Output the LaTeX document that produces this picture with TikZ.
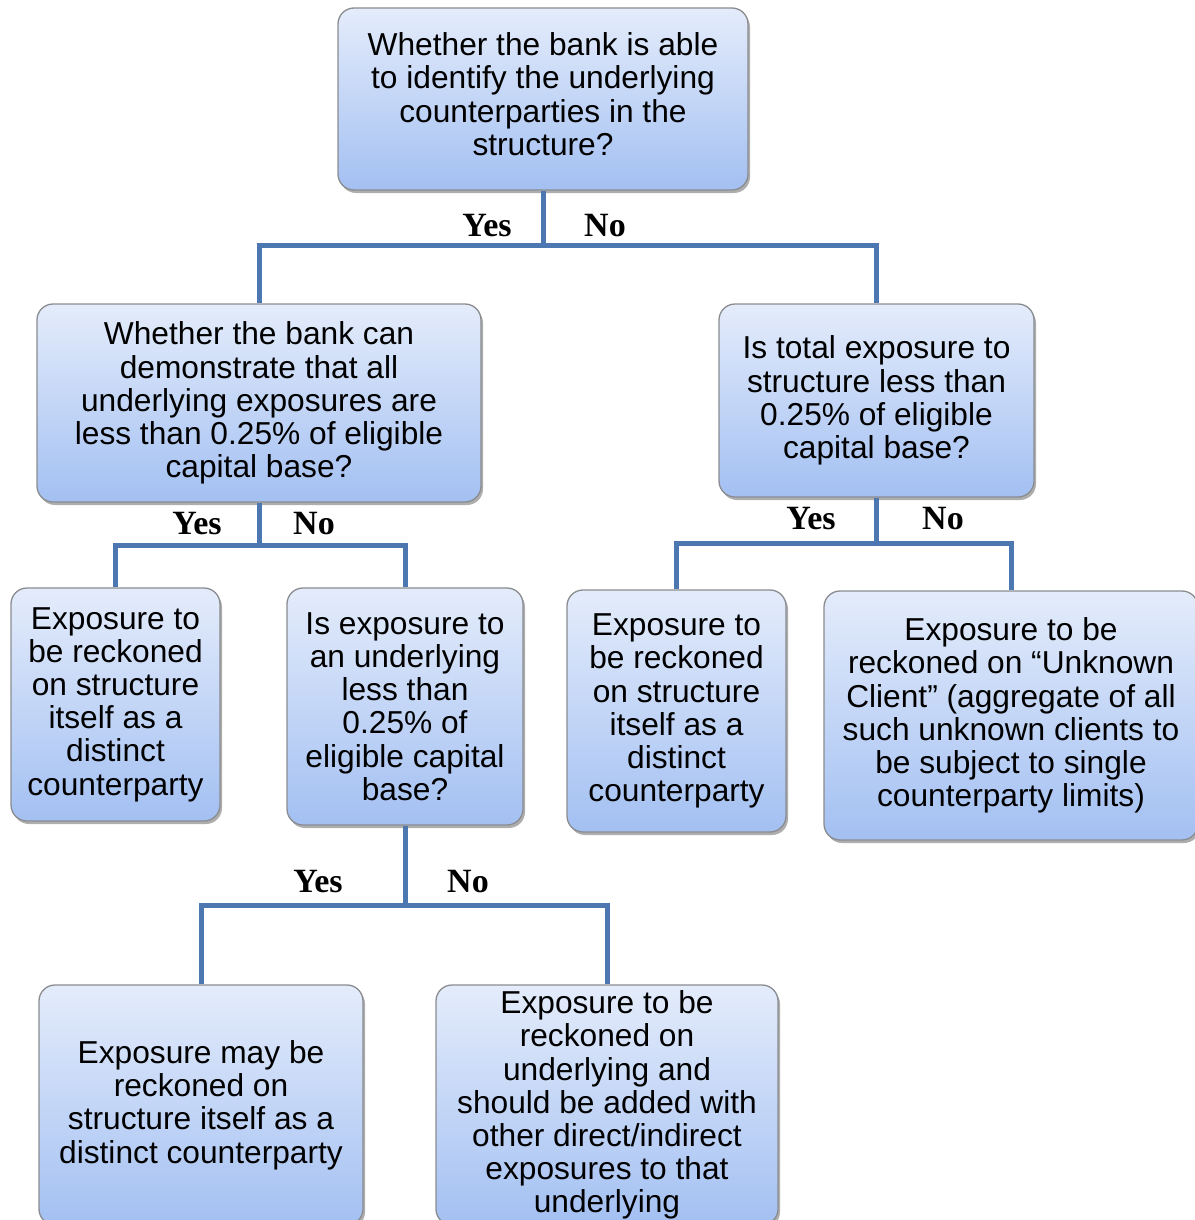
\documentclass[tikz,border=0pt]{standalone}
\usepackage{fontspec}
\setmainfont{Liberation Sans}
\newfontfamily\lblfont{Liberation Serif}
\usetikzlibrary{shadows}
\definecolor{boxtop}{HTML}{E4ECFB}
\definecolor{boxbot}{HTML}{A3C0F2}
\definecolor{boxline}{HTML}{8A8C90}
\definecolor{connc}{HTML}{4C77B0}
\tikzset{
  flowbox/.style={rectangle, rounded corners=16pt, draw=boxline, line width=1.3pt,
    top color=boxtop, bottom color=boxbot, align=center, inner sep=0pt,
    font=\fontsize{31.7pt}{33.2pt}\selectfont,
    drop shadow={shadow xshift=2pt, shadow yshift=-3pt, opacity=0.45, fill=black!70}},
  connline/.style={draw=connc, line width=5pt},
  yn/.style={font=\lblfont\bfseries\fontsize{34pt}{36pt}\selectfont, inner sep=0pt}
}
\begin{document}
\begin{tikzpicture}[x=1pt,y=-1pt]
\useasboundingbox (0,0) rectangle (1194,1220);

\node[flowbox, minimum width=410pt, minimum height=182pt, text depth=10pt] (top) at (543,99)
  {Whether the bank is able\\to identify the underlying\\counterparties in the\\structure?};
\node[flowbox, minimum width=444pt, minimum height=198pt] (L) at (259,403)
  {Whether the bank can\\demonstrate that all\\underlying exposures are\\less than 0.25\% of eligible\\capital base?};
\node[flowbox, minimum width=315pt, minimum height=193pt] (R) at (876.5,400.5)
  {Is total exposure to\\structure less than\\0.25\% of eligible\\capital base?};
\node[flowbox, minimum width=209pt, minimum height=233pt] (LL) at (115.5,704.5)
  {Exposure to\\be reckoned\\on structure\\itself as a\\distinct\\counterparty};
\node[flowbox, minimum width=236pt, minimum height=237pt] (LR) at (405,706.5)
  {Is exposure to\\an underlying\\less than\\0.25\% of\\eligible capital\\base?};
\node[flowbox, minimum width=219pt, minimum height=242pt] (RL) at (676.5,711)
  {Exposure to\\be reckoned\\on structure\\itself as a\\distinct\\counterparty};
\node[flowbox, minimum width=374pt, minimum height=249pt] (RR) at (1011,715.5)
  {Exposure to be\\reckoned on “Unknown\\Client” (aggregate of all\\such unknown clients to\\be subject to single\\counterparty limits)};
\node[flowbox, minimum width=324pt, minimum height=240pt] (BL) at (201,1105)
  {Exposure may be\\reckoned on\\structure itself as a\\distinct counterparty};
\node[flowbox, minimum width=342pt, minimum height=240pt] (BR) at (607,1105)
  {Exposure to be\\reckoned on\\underlying and\\should be added with\\other direct/indirect\\exposures to that\\underlying};

% connectors
\coordinate (j1) at (543,245);
\coordinate (j2) at (259,545);
\coordinate (j3) at (876.5,543);
\coordinate (j4) at (405,905);
\draw[connline] (top.south) -- (j1);
\draw[connline] (L.north) -- (L.north |- j1) -- (R.north |- j1) -- (R.north);
\draw[connline] (L.south) -- (j2);
\draw[connline] (LL.north) -- (LL.north |- j2) -- (LR.north |- j2) -- (LR.north);
\draw[connline] (R.south) -- (j3);
\draw[connline] (RL.north) -- (RL.north |- j3) -- (RR.north |- j3) -- (RR.north);
\draw[connline] (LR.south) -- (j4);
\draw[connline] (BL.north) -- (BL.north |- j4) -- (BR.north |- j4) -- (BR.north);

% labels
\node[yn] (y1) at (487,226) {Yes};
\node[yn] (n1) at (605,226) {No};
\node[yn] (y2) at (197,524) {Yes};
\node[yn] (n2) at (314,524) {No};
\node[yn] (y3) at (811,519) {Yes};
\node[yn] (n3) at (943,519) {No};
\node[yn] (y4) at (318,882) {Yes};
\node[yn] (n4) at (468,882) {No};
\end{tikzpicture}
\end{document}
